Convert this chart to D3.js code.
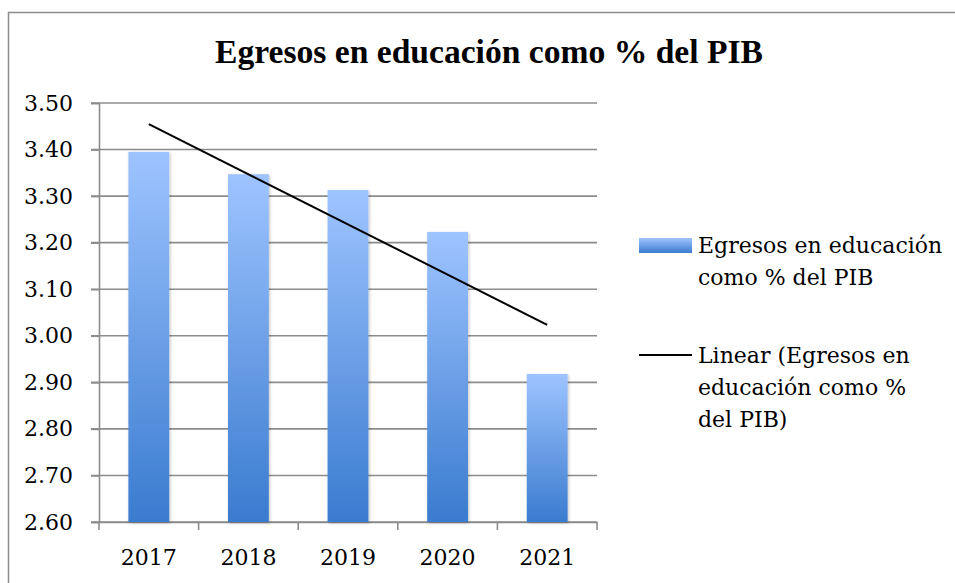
<!DOCTYPE html>
<html><head><meta charset="utf-8">
<script src="https://cdn.jsdelivr.net/npm/d3@7"></script>
<style>html,body{margin:0;padding:0;background:#fff;}svg{display:block;}</style>
</head><body>
<svg id="c" width="955" height="583"></svg>
<script>
const title = "Egresos en educación como % del PIB";
const years = ["2017", "2018", "2019", "2020", "2021"];
const values = [3.395, 3.347, 3.313, 3.223, 2.918];
const yTicks = [2.6, 2.7, 2.8, 2.9, 3.0, 3.1, 3.2, 3.3, 3.4, 3.5];
const legendBar = ["Egresos en educación", "como % del PIB"];
const legendLine = ["Linear (Egresos en", "educación como %", "del PIB)"];

const svg = d3.select("#c");
const W = 955, H = 583;
const m = {left: 99, right: 597, top: 103, bottom: 522};
const serif = "'DejaVu Serif', serif";
const fs = 22;

svg.append("rect").attr("x", 8.5).attr("y", 12.5).attr("width", W).attr("height", H)
  .attr("fill", "#fff").attr("stroke", "#8c8c8c").attr("stroke-width", 1.5);

const defs = svg.append("defs");
const g1 = defs.append("linearGradient").attr("id", "bg").attr("x1", 0).attr("y1", 0).attr("x2", 0).attr("y2", 1);
g1.append("stop").attr("offset", "0%").attr("stop-color", "#9ec4ff");
g1.append("stop").attr("offset", "100%").attr("stop-color", "#3a7bcf");
const f = defs.append("filter").attr("id", "sh").attr("x", "-20%").attr("y", "-10%").attr("width", "140%").attr("height", "120%");
f.append("feDropShadow").attr("dx", 1).attr("dy", 1).attr("stdDeviation", 1.5).attr("flood-color", "#000").attr("flood-opacity", 0.25);

const x = d3.scaleBand().domain(years).range([m.left, m.right]).paddingInner(0.59).paddingOuter(0.295);
const y = d3.scaleLinear().domain([2.6, 3.5]).range([m.bottom, m.top]);

// gridlines
svg.append("g").selectAll("line").data(yTicks).join("line")
  .attr("x1", m.left - 8).attr("x2", m.right)
  .attr("y1", d => y(d)).attr("y2", d => y(d))
  .attr("stroke", "#8c8c8c").attr("stroke-width", 1.6);

// y axis
const ya = svg.append("g").attr("transform", `translate(${m.left},0)`)
  .call(d3.axisLeft(y).tickValues(yTicks).tickFormat(d3.format(".2f")).tickSize(8).tickPadding(18));
ya.select(".domain").attr("stroke", "#8c8c8c").attr("stroke-width", 1.6);
ya.selectAll(".tick line").attr("stroke", "#8c8c8c").attr("stroke-width", 1.6);
ya.selectAll("text").attr("font-family", serif).attr("font-size", fs).attr("fill", "#000");

// x axis
const xa = svg.append("g").attr("transform", `translate(0,${m.bottom})`)
  .call(d3.axisBottom(x).tickSize(0).tickPadding(27));
xa.select(".domain").attr("stroke", "#8c8c8c").attr("stroke-width", 1.6);
xa.selectAll("text").attr("font-family", serif).attr("font-size", fs).attr("fill", "#000");
const step = x.step();
const bounds = d3.range(years.length + 1).map(i => m.left + i * step);
xa.append("g").selectAll("line").data(bounds).join("line")
  .attr("x1", d => d).attr("x2", d => d).attr("y1", 0).attr("y2", 8)
  .attr("stroke", "#8c8c8c").attr("stroke-width", 1.6);

// bars
svg.append("g").selectAll("rect").data(values).join("rect")
  .attr("x", (d, i) => x(years[i])).attr("width", x.bandwidth())
  .attr("y", d => y(d)).attr("height", d => y(2.6) - y(d))
  .attr("fill", "url(#bg)").attr("filter", "url(#sh)");

// linear trendline
const n = values.length;
const xs = d3.range(1, n + 1);
const mx = d3.mean(xs), my = d3.mean(values);
const slope = d3.sum(xs, (v, i) => (v - mx) * (values[i] - my)) / d3.sum(xs, v => (v - mx) ** 2);
const icpt = my - slope * mx;
const cx = i => x(years[i]) + x.bandwidth() / 2;
svg.append("line")
  .attr("x1", cx(0)).attr("y1", y(icpt + slope * 1))
  .attr("x2", cx(n - 1)).attr("y2", y(icpt + slope * n))
  .attr("stroke", "#000").attr("stroke-width", 2);

// title
svg.append("text").attr("x", 489).attr("y", 63).attr("text-anchor", "middle")
  .attr("font-family", "'Liberation Serif', serif").attr("font-weight", "bold").attr("font-size", 33)
  .attr("textLength", 548).attr("lengthAdjust", "spacingAndGlyphs")
  .attr("fill", "#000").text(title);

// legend
const lg = svg.append("g");
lg.append("rect").attr("x", 639).attr("y", 238).attr("width", 53).attr("height", 15).attr("fill", "url(#bg)");
lg.selectAll("text.a").data(legendBar).join("text").attr("class", "a")
  .attr("x", 698).attr("y", (d, i) => 253 + i * 32)
  .attr("font-family", serif).attr("font-size", fs).attr("fill", "#000").text(d => d);
lg.append("line").attr("x1", 639).attr("x2", 692).attr("y1", 355).attr("y2", 355).attr("stroke", "#000").attr("stroke-width", 2);
lg.selectAll("text.b").data(legendLine).join("text").attr("class", "b")
  .attr("x", 698).attr("y", (d, i) => 363 + i * 32)
  .attr("font-family", serif).attr("font-size", fs).attr("fill", "#000").text(d => d);
</script>
</body></html>
